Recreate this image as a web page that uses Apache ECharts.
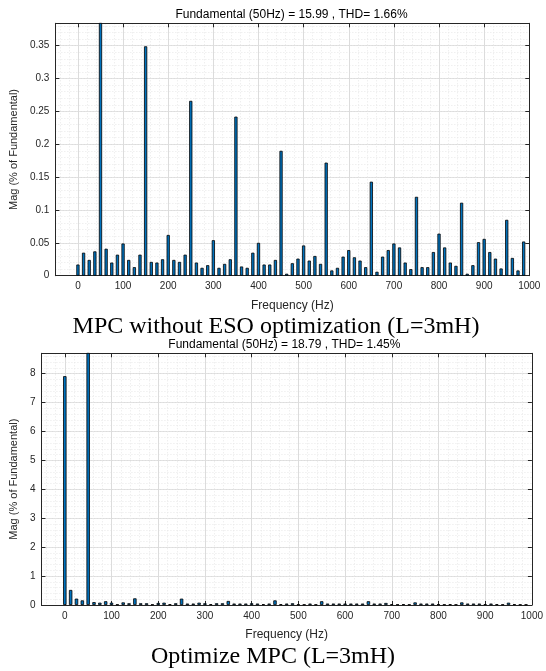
<!DOCTYPE html>
<html>
<head>
<meta charset="utf-8">
<script src="https://cdn.jsdelivr.net/npm/echarts@6/dist/echarts.min.js"></script>
<style>
html,body{margin:0;padding:0;background:#fff;}
#c{width:546px;height:671px;}
</style>
</head>
<body>
<div id="c"></div>
<script>
// Frequencies (Hz) of spectrum bins
const freqs = [0,12.5,25,37.5,50,62.5,75,87.5,100,112.5,125,137.5,150,162.5,175,187.5,200,212.5,225,237.5,
  250,262.5,275,287.5,300,312.5,325,337.5,350,362.5,375,387.5,400,412.5,425,437.5,450,462.5,475,487.5,
  500,512.5,525,537.5,550,562.5,575,587.5,600,612.5,625,637.5,650,662.5,675,687.5,700,712.5,725,737.5,
  750,762.5,775,787.5,800,812.5,825,837.5,850,862.5,875,887.5,900,912.5,925,937.5,950,962.5,975,987.5];

// Top: MPC without ESO optimization (% of fundamental)
const magTop = [0.017,0.035,0.024,0.037,100,0.041,0.020,0.032,0.049,0.024,0.013,0.032,0.349,0.021,0.020,0.025,0.062,0.024,0.021,0.032,
  0.266,0.020,0.012,0.016,0.054,0.012,0.018,0.025,0.242,0.014,0.012,0.035,0.050,0.017,0.017,0.024,0.190,0.003,0.019,0.026,
  0.046,0.023,0.030,0.018,0.172,0.008,0.012,0.029,0.039,0.028,0.023,0.013,0.143,0.006,0.029,0.039,0.049,0.043,0.020,0.010,
  0.120,0.013,0.013,0.036,0.064,0.043,0.020,0.015,0.111,0.003,0.016,0.051,0.056,0.036,0.026,0.011,0.085,0.027,0.008,0.052];

// Bottom: Optimized MPC (% of fundamental)
const magBottom = [7.91,0.52,0.22,0.16,100,0.10,0.08,0.13,0.08,0.02,0.09,0.06,0.23,0.06,0.06,0.02,0.07,0.08,0.03,0.06,
  0.22,0.05,0.05,0.08,0.06,0.03,0.06,0.06,0.14,0.05,0.05,0.05,0.06,0.05,0.03,0.05,0.16,0.03,0.05,0.06,
  0.02,0.02,0.05,0.02,0.13,0.05,0.05,0.05,0.05,0.05,0.05,0.05,0.13,0.05,0.05,0.07,0.03,0.02,0.03,0.02,
  0.09,0.05,0.05,0.05,0.03,0.02,0.03,0.02,0.09,0.05,0.05,0.05,0.03,0.05,0.03,0.02,0.08,0.03,0.02,0.02];

const xTicks = [0,100,200,300,400,500,600,700,800,900,1000];
const yTicksTop = [0,0.05,0.1,0.15,0.2,0.25,0.3,0.35];
const yTicksBottom = [0,1,2,3,4,5,6,7,8];

const titleTop = 'Fundamental (50Hz) = 15.99 , THD= 1.66%';
const titleBottom = 'Fundamental (50Hz) = 18.79 , THD= 1.45%';
const captionTop = 'MPC without ESO optimization (L=3mH)';
const captionBottom = 'Optimize MPC (L=3mH)';
const xName = 'Frequency (Hz)';
const yName = 'Mag (% of Fundamental)';

const AX = '#262626';
const FONT = '"Liberation Sans", Arial, sans-serif';
const MAJ = '#dcdcdc';
const MIN = '#e8e8e8';
const TR = 'rgba(0,0,0,0)';

const chart = echarts.init(document.getElementById('c'), null, {renderer: 'canvas'});

function mainX(grid, name) {
  return {
    type: 'value', gridIndex: grid, position: 'bottom', min: -50, max: 1000, interval: 50,
    name: name, nameLocation: 'middle', nameGap: 24,
    nameTextStyle: {color: AX, fontSize: 12, fontFamily: FONT},
    axisLine: {show: true, onZero: false, lineStyle: {color: AX, width: 1}},
    axisTick: {show: true, inside: true, length: 4, customValues: xTicks, lineStyle: {color: AX}},
    axisLabel: {show: true, customValues: xTicks, color: AX, fontSize: 10, fontFamily: FONT, margin: 6,
      formatter: v => (v % 100 === 0 && v >= 0) ? String(v) : ''},
    splitLine: {show: false}
  };
}
function topX(grid) {
  return {
    type: 'value', gridIndex: grid, position: 'top', min: -50, max: 1000, interval: 50,
    axisLine: {show: true, onZero: false, lineStyle: {color: AX, width: 1}},
    axisTick: {show: true, inside: true, length: 4, customValues: xTicks, lineStyle: {color: AX}},
    axisLabel: {show: false},
    splitLine: {show: false}
  };
}
function gridX(grid, interval, colors, type) {
  return {
    type: 'value', gridIndex: grid, position: 'bottom', min: -50, max: 1000, interval: interval,
    axisLine: {show: false}, axisTick: {show: false}, axisLabel: {show: false},
    splitLine: {show: true, lineStyle: {color: colors, width: 1, type: type}}
  };
}
function mainY(grid, max, ticks, name, gap) {
  return {
    type: 'value', gridIndex: grid, position: 'left', min: 0, max: max, interval: ticks[1] - ticks[0],
    name: name, nameLocation: 'middle', nameGap: gap,
    nameTextStyle: {color: AX, fontSize: 11, fontFamily: FONT},
    axisLine: {show: true, onZero: false, lineStyle: {color: AX, width: 1}},
    axisTick: {show: true, inside: true, length: 4, customValues: ticks, lineStyle: {color: AX}},
    axisLabel: {show: true, customValues: ticks, color: AX, fontSize: 10, fontFamily: FONT, margin: 6},
    splitLine: {show: true, lineStyle: {color: MAJ, width: 1}}
  };
}
function rightY(grid, max, ticks) {
  return {
    type: 'value', gridIndex: grid, position: 'right', min: 0, max: max, interval: ticks[1] - ticks[0],
    axisLine: {show: true, onZero: false, lineStyle: {color: AX, width: 1}},
    axisTick: {show: true, inside: true, length: 4, customValues: ticks, lineStyle: {color: AX}},
    axisLabel: {show: false},
    splitLine: {show: false}
  };
}
function minorY(grid, max, interval) {
  return {
    type: 'value', gridIndex: grid, position: 'left', min: 0, max: max, interval: interval,
    axisLine: {show: false}, axisTick: {show: false}, axisLabel: {show: false},
    splitLine: {show: true, lineStyle: {color: MIN, width: 1, type: [1, 2]}}
  };
}

const option = {
  animation: false,
  backgroundColor: '#ffffff',
  grid: [
    {left: 54.3, top: 23.3, width: 475, height: 252.4},
    {left: 34.4, top: 353.3, width: 500, height: 251.7}
  ],
  xAxis: [
    mainX(0, xName), topX(0),
    gridX(0, 10, [TR, MIN], [1, 2]), gridX(0, 50, [TR, MAJ], 'solid'),
    mainX(1, xName), topX(1),
    gridX(1, 10, [TR, MIN], [1, 2]), gridX(1, 50, [TR, MAJ], 'solid')
  ],
  yAxis: [
    mainY(0, 0.384, yTicksTop, yName, 33), rightY(0, 0.384, yTicksTop), minorY(0, 0.384, 0.01),
    mainY(1, 8.7, yTicksBottom, yName, 17), rightY(1, 8.7, yTicksBottom), minorY(1, 8.7, 0.2)
  ],
  series: [
    {
      type: 'bar', xAxisIndex: 0, yAxisIndex: 0, clip: true, barWidth: 3.2,
      data: freqs.map((f, i) => [f, magTop[i]]),
      itemStyle: {color: '#0072BD', borderColor: '#000000', borderWidth: 0.8},
      z: 5
    },
    {
      type: 'bar', xAxisIndex: 4, yAxisIndex: 3, clip: true, barWidth: 3.4,
      data: freqs.map((f, i) => [f, magBottom[i]]),
      itemStyle: {color: '#0072BD', borderColor: '#000000', borderWidth: 0.8},
      z: 5
    }
  ],
  graphic: [
    {type: 'text', x: 291.5, y: 14.5, style: {text: titleTop, fill: '#000', font: '12px ' + FONT, textAlign: 'center', textVerticalAlign: 'middle'}},
    {type: 'text', x: 284.4, y: 344.5, style: {text: titleBottom, fill: '#000', font: '12px ' + FONT, textAlign: 'center', textVerticalAlign: 'middle'}},
    {type: 'text', x: 276, y: 327, style: {text: captionTop, fill: '#000', font: '24px "Liberation Serif", "Times New Roman", serif', textAlign: 'center', textVerticalAlign: 'middle'}},
    {type: 'text', x: 273, y: 657, style: {text: captionBottom, fill: '#000', font: '24px "Liberation Serif", "Times New Roman", serif', textAlign: 'center', textVerticalAlign: 'middle'}}
  ]
};
chart.setOption(option);
</script>
</body>
</html>
